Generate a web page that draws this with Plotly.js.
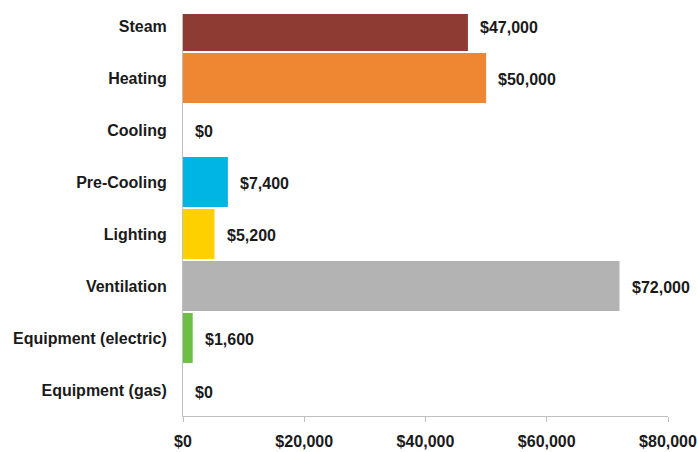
<!DOCTYPE html>
<html>
<head>
<meta charset="utf-8">
<script src="https://cdn.plot.ly/plotly-3.0.1.min.js"></script>
<style>html,body{margin:0;padding:0;background:#fff;}#chart{width:697px;height:452px;}</style>
</head>
<body>
<div id="chart"></div>
<script>
const categories = ["Steam", "Heating", "Cooling", "Pre-Cooling", "Lighting", "Ventilation", "Equipment (electric)", "Equipment (gas)"];
const values = [47000, 50000, 0, 7400, 5200, 72000, 1600, 0];
const colors = ["#8E3B34", "#EE8632", "#FFFFFF", "#00B4E4", "#FFD000", "#B3B3B3", "#6DBE45", "#FFFFFF"];
const xTicks = [0, 20000, 40000, 60000, 80000];
const xTickLabels = xTicks.map(v => "$" + v.toLocaleString("en-US"));
const valueLabels = values.map(v => "$" + v.toLocaleString("en-US"));

const fontFam = "Liberation Sans, Arial, sans-serif";
const textColor = "#1a1a1a";

const trace = {
  type: "bar",
  orientation: "h",
  y: categories,
  x: values,
  marker: {color: colors},
  hoverinfo: "none"
};

const annotations = categories.map((c, i) => ({
  x: values[i], y: c, xref: "x", yref: "y",
  text: "<b>" + valueLabels[i] + "</b>",
  showarrow: false, xanchor: "left", xshift: 10, yshift: -2,
  font: {family: fontFam, size: 16, color: textColor}
}));

const layout = {
  width: 697, height: 452,
  margin: {l: 183, r: 29, t: 14, b: 36},
  paper_bgcolor: "#fff", plot_bgcolor: "#fff",
  bargap: 0.04,
  showlegend: false,
  xaxis: {
    range: [0, 80000.5],
    tickvals: xTicks,
    ticktext: xTickLabels.map(t => "<b>" + t + "</b>"),
    ticklabeloverflow: "allow",
    showgrid: false, zeroline: false,
    showline: true, linecolor: "#C0C0C0", linewidth: 1,
    ticks: "outside", ticklen: 5, tickcolor: "#C0C0C0",
    ticklabelstandoff: 6,
    tickfont: {family: fontFam, size: 16, color: textColor},
    fixedrange: true
  },
  yaxis: {
    type: "category",
    categoryorder: "array", categoryarray: categories,
    range: [7.5, -0.23],
    showgrid: false, zeroline: false,
    showline: true, linecolor: "#C0C0C0", linewidth: 1,
    ticks: "", ticklabelstandoff: 12,
    tickvals: categories,
    ticktext: categories.map(t => "<b>" + t + "</b>"),
    tickfont: {family: fontFam, size: 16, color: textColor},
    fixedrange: true
  },
  annotations: annotations
};

Plotly.newPlot("chart", [trace], layout, {displayModeBar: false, staticPlot: true});
</script>
</body>
</html>
